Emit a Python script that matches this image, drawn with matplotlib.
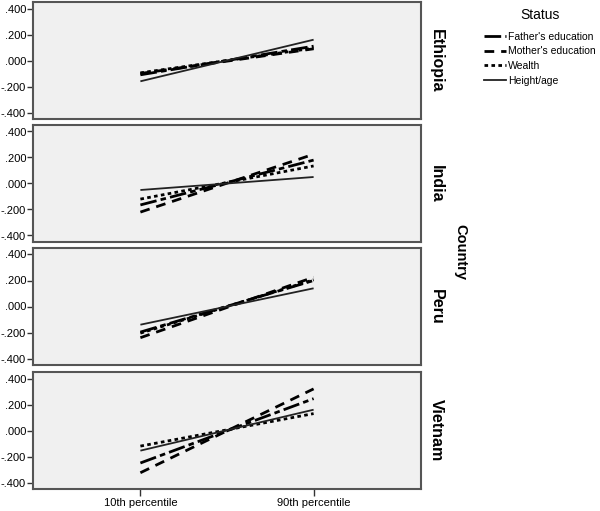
import matplotlib
matplotlib.use("Agg")
import matplotlib.pyplot as plt
from matplotlib.lines import Line2D

countries = ["Ethiopia", "India", "Peru", "Vietnam"]
categories = ["10th percentile", "90th percentile"]
series = ["Father's education", "Mother's education", "Wealth", "Height/age"]

# [10th, 90th] values for each status by country
father = {"Ethiopia": [-0.11, 0.11], "India": [-0.165, 0.18], "Peru": [-0.197, 0.20], "Vietnam": [-0.25, 0.245]}
mother = {"Ethiopia": [-0.10, 0.09], "India": [-0.22, 0.225], "Peru": [-0.24, 0.225], "Vietnam": [-0.325, 0.32]}
wealth = {"Ethiopia": [-0.095, 0.095], "India": [-0.12, 0.135], "Peru": [-0.205, 0.205], "Vietnam": [-0.12, 0.13]}
height = {"Ethiopia": [-0.16, 0.16], "India": [-0.05, 0.05], "Peru": [-0.14, 0.14], "Vietnam": [-0.155, 0.16]}

yticks = [-0.4, -0.2, 0.0, 0.2, 0.4]
ytick_labels = ["-.400", "-.200", ".000", ".200", ".400"]

styles = [
    dict(color="black", lw=2.0, dashes=(6, 1.5, 2, 1.5)),
    dict(color="black", lw=2.0, dashes=(3.5, 2.5)),
    dict(color="black", lw=2.0, dashes=(1.3, 1.2)),
    dict(color="#222222", lw=1.3, linestyle="-"),
]

fig = plt.figure(figsize=(6.0, 5.11), dpi=100)
plt.rcParams["font.family"] = ["Liberation Sans", "DejaVu Sans"]

tops = [2, 125, 248, 372]
h = 117
left_px, right_px = 33, 421
x = [0, 1]

for i, c in enumerate(countries):
    bottom = (511 - tops[i] - h) / 511
    ax = fig.add_axes([left_px / 600, bottom, (right_px - left_px) / 600, h / 511])
    ax.set_facecolor("#f0f0f0")
    for data, st in zip([father, mother, wealth, height], styles):
        ax.plot(x, data[c], solid_capstyle="butt", dash_capstyle="butt", **st)
    ax.set_xlim(-0.62, 1.62)
    ax.set_ylim(-0.45, 0.45)
    ax.set_yticks(yticks)
    ax.set_yticklabels(ytick_labels, fontsize=8)
    ax.tick_params(axis="y", direction="out", length=4, width=1, color="#333333", pad=1)
    if i == len(countries) - 1:
        ax.set_xticks(x)
        ax.set_xticklabels(categories, fontsize=8)
        ax.tick_params(axis="x", direction="out", length=5, width=1, color="#333333", pad=1.5)
    else:
        ax.set_xticks([])
    for sp in ax.spines.values():
        sp.set_color("#555555")
        sp.set_linewidth(1.5)
    ax.text(1.04, 0.5, c, transform=ax.transAxes, rotation=-90, ha="center", va="center",
            fontsize=11.5, fontweight="bold")

fig.text(460 / 600, 1 - 252 / 511, "Country", rotation=-90, ha="center", va="center",
         fontsize=10.5, fontweight="bold")

handles = [Line2D([0], [0], **st) for st in styles]
leg = fig.legend(handles, series, loc="upper center", bbox_to_anchor=(540 / 600, 1 - 8 / 511),
                 title="Status", frameon=False, fontsize=7.5, title_fontsize=10,
                 handlelength=2.1, handletextpad=0.2, labelspacing=0.45, borderaxespad=0,
                 borderpad=0)
leg._legend_box.sep = 7

fig.savefig("out.png", dpi=100)
